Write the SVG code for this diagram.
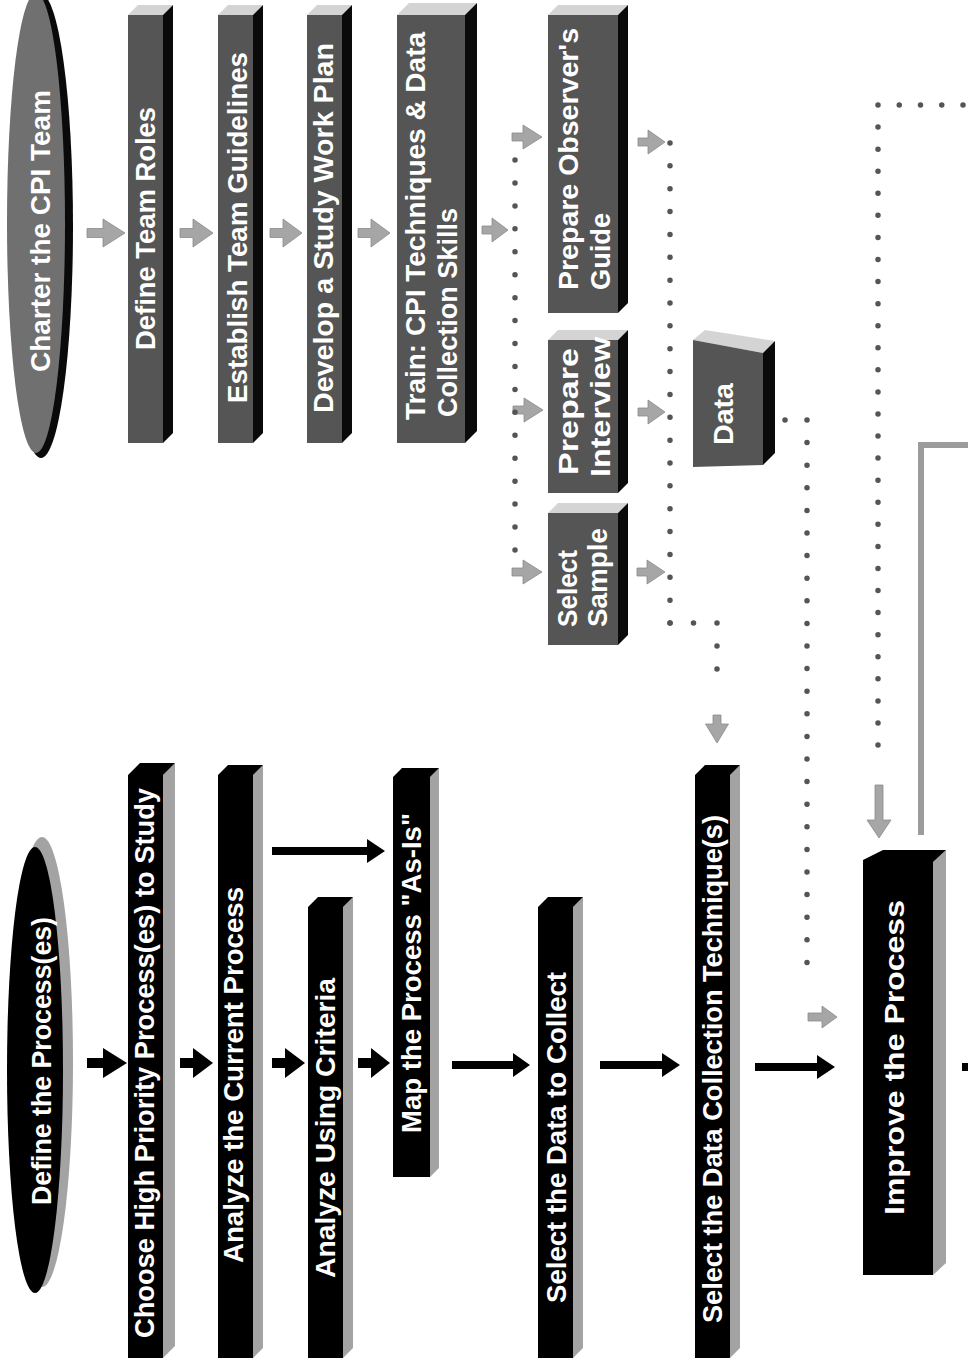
<svg xmlns="http://www.w3.org/2000/svg" width="968" height="1361" viewBox="0 0 968 1361">
<style>
.t{fill:#fff;font-family:"Liberation Sans",Arial,sans-serif;font-weight:bold;font-size:27px}
.uf{fill:#555}
.ut{fill:#d4d4d4}
.us{fill:#0a0a0a}
.lf{fill:#000}
.ls{fill:#a3a3a3}
.ga{fill:#a6a6a6;stroke:#8a8a8a;stroke-width:0.8}
.ba{fill:#000}
.dot{fill:none;stroke:#555;stroke-width:5.5;stroke-linecap:round}
.gl{fill:none;stroke:#9c9c9c;stroke-width:6}
</style>
<rect width="968" height="1361" fill="#fff"/>

<g id="connectors">
  <!-- gray arrows upper chain -->
  <path class="ga" d="M87,228.5 H103 V219 L125,233 L103,247 V237.5 H87 Z"/>
  <path class="ga" d="M180,228.5 H193 V219 L213,233 L193,247 V237.5 H180 Z"/>
  <path class="ga" d="M270,228.5 H283 V219 L302,233 L283,247 V237.5 H270 Z"/>
  <path class="ga" d="M358,228.5 H371 V219 L390,233 L371,247 V237.5 H358 Z"/>
  <path class="ga" d="M482,226 H492 V218 L508,230 L492,242 V234 H482 Z"/>
  <path class="ga" d="M512,133 H523 V125 L542,137 L523,149 V141 H512 Z"/>
  <path class="ga" d="M513,406 H524 V398 L543,410 L524,422 V414 H513 Z"/>
  <path class="ga" d="M512,568 H523 V560 L542,572 L523,584 V576 H512 Z"/>
  <path class="ga" d="M638,138 H648 V130 L665,142 L648,154 V146 H638 Z"/>
  <path class="ga" d="M638,408 H648 V400 L665,412 L648,424 V416 H638 Z"/>
  <path class="ga" d="M637,568 H647 V560 L665,572 L647,584 V576 H637 Z"/>
  <path class="ga" d="M808,1013 H822 V1006 L837,1017 L822,1028 V1021 H808 Z"/>
  <path class="ga" d="M713,715 V724 H705.5 L717,743 L728.5,724 H721 V715 Z"/>
  <path class="ga" d="M875,785 V820 H867 L879,838 L891,820 H883 V785 Z"/>

  <!-- dotted connectors -->
  <path class="dot" stroke-dasharray="0 22.94" d="M515,160 V550"/>
  <path class="dot" stroke-dasharray="0 22.857" d="M670,143 V623"/>
  <path class="dot" stroke-dasharray="0 23.5" d="M670,623 H717"/>
  <path class="dot" stroke-dasharray="0 23" d="M717,623 V692"/>
  <path class="dot" stroke-dasharray="0 22" d="M785,420 H807"/>
  <path class="dot" stroke-dasharray="0 22.6" d="M807,420 V985"/>
  <path class="dot" stroke-dasharray="0 21.25" d="M963,105 H878"/>
  <path class="dot" stroke-dasharray="0 22.07" d="M878,105 V767"/>

  <!-- gray solid feedback line -->
  <path class="gl" d="M968,445 H921 V835"/>

  <!-- black arrows lower chain -->
  <path class="ba" d="M87,1058 H103 V1048 L127,1063 L103,1078 V1068 H87 Z"/>
  <path class="ba" d="M180,1058 H193 V1048 L213,1063 L193,1078 V1068 H180 Z"/>
  <path class="ba" d="M272,1058 H285 V1048 L305,1063 L285,1078 V1068 H272 Z"/>
  <path class="ba" d="M358,1058 H371 V1048 L390,1063 L371,1078 V1068 H358 Z"/>
  <path class="ba" d="M452,1061 H513 V1053 L530,1065 L513,1077 V1069 H452 Z"/>
  <path class="ba" d="M600,1061 H662 V1053 L680,1065 L662,1077 V1069 H600 Z"/>
  <path class="ba" d="M755,1063 H817 V1055 L835,1067 L817,1079 V1071 H755 Z"/>
  <path class="ba" d="M272,847 H367 V839 L385,851 L367,863 V855 H272 Z"/>
  <path class="ba" d="M962,1063 H968 V1071 H962 Z"/>
</g>

<g id="charter">
  <ellipse cx="41" cy="226" rx="32" ry="232" fill="#0a0a0a"/>
  <ellipse cx="36" cy="223" rx="29" ry="230" fill="#707070"/>
  <text class="t" font-size="28" transform="translate(50,372) rotate(-90)" textLength="282" lengthAdjust="spacingAndGlyphs">Charter the CPI Team</text>
</g>

<g id="define-team-roles">
  <polygon class="ut" points="128,15 138,5 173,5 163,15"/>
  <polygon class="us" points="163,15 173,5 173,433 163,443"/>
  <rect class="uf" x="128" y="15" width="35" height="428"/>
  <text class="t" transform="translate(155,350) rotate(-90)" textLength="243" lengthAdjust="spacingAndGlyphs">Define Team Roles</text>
</g>

<g id="establish-guidelines">
  <polygon class="ut" points="218,15 228,5 263,5 253,15"/>
  <polygon class="us" points="253,15 263,5 263,433 253,443"/>
  <rect class="uf" x="218" y="15" width="35" height="428"/>
  <text class="t" transform="translate(247,403) rotate(-90)" textLength="351" lengthAdjust="spacingAndGlyphs">Establish Team Guidelines</text>
</g>

<g id="develop-plan">
  <polygon class="ut" points="307,15 317,5 352,5 342,15"/>
  <polygon class="us" points="342,15 352,5 352,433 342,443"/>
  <rect class="uf" x="307" y="15" width="35" height="428"/>
  <text class="t" transform="translate(333,413) rotate(-90)" textLength="370" lengthAdjust="spacingAndGlyphs">Develop a Study Work Plan</text>
</g>

<g id="train">
  <polygon class="ut" points="397,15 409,3 477,3 465,15"/>
  <polygon class="us" points="465,15 477,3 477,431 465,443"/>
  <rect class="uf" x="397" y="15" width="68" height="428"/>
  <text class="t" transform="translate(425,420) rotate(-90)" textLength="388" lengthAdjust="spacingAndGlyphs">Train: CPI Techniques &amp; Data</text>
  <text class="t" transform="translate(457,417) rotate(-90)" textLength="209" lengthAdjust="spacingAndGlyphs">Collection Skills</text>
</g>

<g id="observers-guide">
  <polygon class="ut" points="548,15 558,5 628,5 618,15"/>
  <polygon class="us" points="618,15 628,5 628,303 618,313"/>
  <rect class="uf" x="548" y="15" width="70" height="298"/>
  <text class="t" transform="translate(578,290) rotate(-90)" textLength="262" lengthAdjust="spacingAndGlyphs">Prepare Observer's</text>
  <text class="t" transform="translate(610,290) rotate(-90)" textLength="77" lengthAdjust="spacingAndGlyphs">Guide</text>
</g>

<g id="prepare-interview">
  <polygon class="ut" points="548,340 558,330 628,330 618,340"/>
  <polygon class="us" points="618,340 628,330 628,483 618,493"/>
  <rect class="uf" x="548" y="340" width="70" height="153"/>
  <text class="t" transform="translate(578,475) rotate(-90)" textLength="127" lengthAdjust="spacingAndGlyphs">Prepare</text>
  <text class="t" transform="translate(610,477) rotate(-90)" textLength="140" lengthAdjust="spacingAndGlyphs">Interview</text>
</g>

<g id="select-sample">
  <polygon class="ut" points="548,513 558,503 628,503 618,513"/>
  <polygon class="us" points="618,513 628,503 628,635 618,645"/>
  <rect class="uf" x="548" y="513" width="70" height="132"/>
  <text class="t" transform="translate(577,627) rotate(-90)" textLength="77" lengthAdjust="spacingAndGlyphs">Select</text>
  <text class="t" transform="translate(607,627) rotate(-90)" textLength="99" lengthAdjust="spacingAndGlyphs">Sample</text>
</g>

<g id="data">
  <polygon class="ut" points="693,340 705,330 775,341 763,353"/>
  <polygon class="us" points="763,353 775,341 775,453 763,465"/>
  <polygon class="uf" points="693,340 763,353 763,465 693,467"/>
  <text class="t" transform="translate(733,445) rotate(-90)" textLength="62" lengthAdjust="spacingAndGlyphs">Data</text>
</g>

<g id="define-process">
  <ellipse cx="42" cy="1062" rx="31" ry="225" fill="#a3a3a3"/>
  <ellipse cx="35" cy="1070" rx="28" ry="223" fill="#000"/>
  <text class="t" transform="translate(51,1205) rotate(-90)" textLength="288" lengthAdjust="spacingAndGlyphs">Define the Process(es)</text>
</g>

<g id="choose-priority">
  <polygon class="ls" points="163,775 175,763 175,1346 163,1358"/>
  <polygon class="lf" points="128,1358 128,775 140,763 175,763 163,775 163,1358"/>
  <text class="t" transform="translate(154,1338) rotate(-90)" textLength="550" lengthAdjust="spacingAndGlyphs">Choose High Priority Process(es) to Study</text>
</g>

<g id="analyze-current">
  <polygon class="ls" points="253,775 263,765 263,1348 253,1358"/>
  <polygon class="lf" points="218,1358 218,775 228,765 263,765 253,775 253,1358"/>
  <text class="t" transform="translate(243,1263) rotate(-90)" textLength="376" lengthAdjust="spacingAndGlyphs">Analyze the Current Process</text>
</g>

<g id="analyze-criteria">
  <polygon class="ls" points="343,907 353,897 353,1348 343,1358"/>
  <polygon class="lf" points="308,1358 308,907 318,897 353,897 343,907 343,1358"/>
  <text class="t" transform="translate(335,1278) rotate(-90)" textLength="300" lengthAdjust="spacingAndGlyphs">Analyze Using Criteria</text>
</g>

<g id="map-process">
  <polygon class="ls" points="430,777 439,768 439,1168 430,1177"/>
  <polygon class="lf" points="393,1177 393,777 402,768 439,768 430,777 430,1177"/>
  <text class="t" transform="translate(421,1133) rotate(-90)" textLength="320" lengthAdjust="spacingAndGlyphs">Map the Process "As-Is"</text>
</g>

<g id="select-data">
  <polygon class="ls" points="573,907 583,897 583,1348 573,1358"/>
  <polygon class="lf" points="538,1358 538,907 548,897 583,897 573,907 573,1358"/>
  <text class="t" transform="translate(566,1303) rotate(-90)" textLength="331" lengthAdjust="spacingAndGlyphs">Select the Data to Collect</text>
</g>

<g id="select-technique">
  <polygon class="ls" points="730,775 740,765 740,1348 730,1358"/>
  <polygon class="lf" points="695,1358 695,775 705,765 740,765 730,775 730,1358"/>
  <text class="t" transform="translate(722,1323) rotate(-90)" textLength="508" lengthAdjust="spacingAndGlyphs">Select the Data Collection Technique(s)</text>
</g>

<g id="improve-process">
  <polygon class="ls" points="933,862 946,850 946,1263 933,1275"/>
  <polygon class="lf" points="863,1275 863,860 883,850 946,850 933,862 933,1275"/>
  <text class="t" font-size="30" transform="translate(904,1215) rotate(-90)" textLength="315" lengthAdjust="spacingAndGlyphs">Improve the Process</text>
</g>
</svg>
